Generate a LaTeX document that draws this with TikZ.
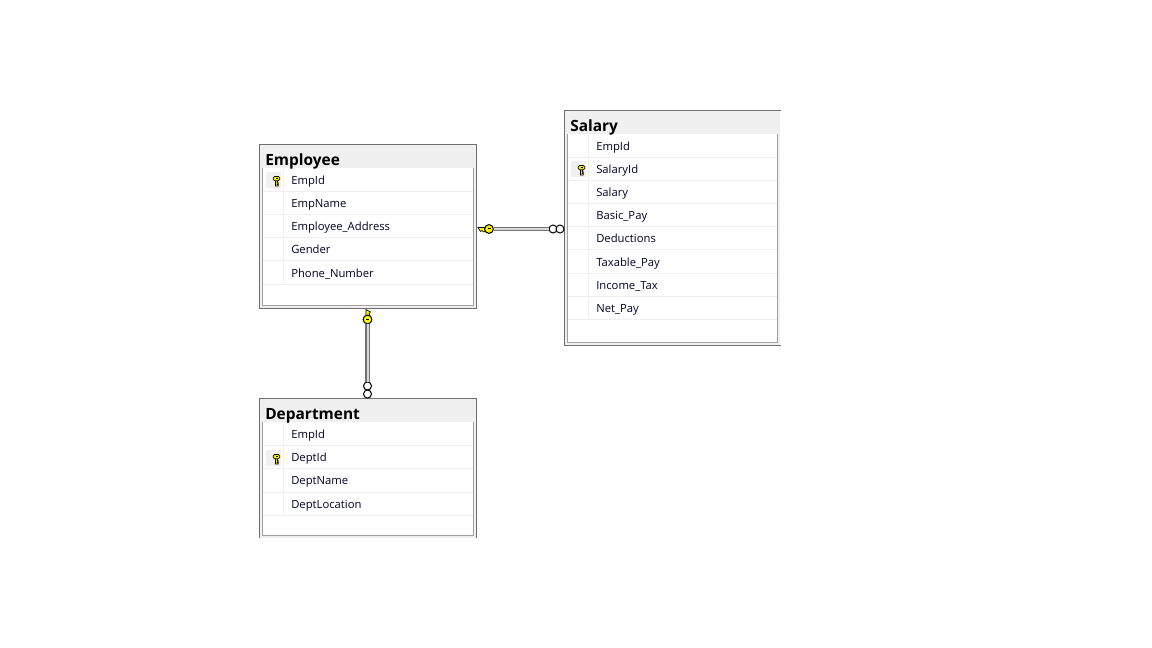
\documentclass[tikz,border=0pt]{standalone}
\usepackage{fontspec}
\setmainfont{Open Sans}
\definecolor{framegray}{HTML}{6E6E6E}
\definecolor{innergray}{HTML}{A0A0A0}
\definecolor{bandgray}{HTML}{F0F0F0}
\definecolor{keyyellow}{HTML}{FFF200}
\tikzset{
  tabbox/.style={fill=bandgray, inner sep=0pt, minimum width=#1},
  tabouter/.style={draw=framegray, line width=1pt},
  tabinner/.style={draw=innergray, line width=1pt},
  tabline/.style={draw=bandgray, line width=0.75pt},
  tabtitle/.style={anchor=base west, inner sep=0pt, font=\fontsize{11.6}{13}\selectfont\bfseries},
  rowtext/.style={anchor=base west, inner sep=0pt, text=black!85!blue, font=\fontsize{8.45}{10}\selectfont},
  manyend/.style={circle, draw=black, fill=white, line width=0.75pt, minimum size=6pt, inner sep=0pt},
  keyhead/.style={circle, draw=black, fill=keyyellow, line width=0.75pt, minimum size=6.6pt, inner sep=0pt},
  relline/.style={draw=black!55, line width=0.9pt, double=black!15, double distance=1.5pt},
  cellkey/.pic={
    \filldraw[draw=black, fill=keyyellow, line width=0.6pt]
      (-1,0) -- (-1,6) -- (1.8,6) -- (1.8,4.5) -- (0.8,4.5) -- (1.8,3) -- (0.8,2.5) -- (1.2,0) -- cycle;
    \filldraw[draw=black, fill=keyyellow, line width=0.6pt, rounded corners=1pt]
      (-3.2,-3.5) rectangle (3.2,0.8);
    \fill[black] (-1,-2.4) rectangle (1,-1.4);
  },
}
\begin{document}
\begin{tikzpicture}[x=0.75pt, y=-0.75pt]
  \useasboundingbox (0,0) rectangle (1152,648);

  % Employee
  \node[tabbox=163.1pt, minimum height=123pt] (emp) at (368,226.5) {};
  \fill[white] (263,168) rectangle (473,305.5);
  \foreach \y in {191.5,214.5,238,261,284.5}
    \draw[tabline] (263,\y) -- (473,\y);
  \draw[tabline] (283.5,168) -- (283.5,284);
  \draw[tabouter] (259.5,144.5) rectangle (476.5,308.5);
  \draw[tabinner] (262.5,168) -- (262.5,305.5) -- (473.5,305.5) -- (473.5,168);
  \node[tabtitle] (empname) at (265,166) {Employee};
  \fill[bandgray] (266,172) rectangle (281,188);
  \pic at (276.5,180) {cellkey};
  \node[rowtext] (emprowa) at (291,185) {EmpId};
  \node[rowtext] (emprowb) at (291,208) {EmpName};
  \node[rowtext] (emprowc) at (291,231) {Employee\_Address};
  \node[rowtext] (emprowd) at (291,254) {Gender};
  \node[rowtext] (emprowe) at (291,278) {Phone\_Number};

  % Salary, cut off on the right
  \node[tabbox=161.6pt, minimum height=176.25pt] (sal) at (672.25,228) {};
  \fill[white] (568,134) rectangle (777,342.5);
  \foreach \y in {157.5,180.5,203.5,227,250,273.5,296.5,319.5}
    \draw[tabline] (568,\y) -- (777,\y);
  \draw[tabline] (588.5,134) -- (588.5,319);
  \draw[tabouter] (781,110.5) -- (564.5,110.5) -- (564.5,345.5) -- (781,345.5);
  \draw[tabinner] (567.5,134) -- (567.5,342.5) -- (777.5,342.5) -- (777.5,134);
  \node[tabtitle] (salname) at (570,132) {Salary};
  \fill[bandgray] (571,161) rectangle (586,177);
  \pic at (581.5,169) {cellkey};
  \node[rowtext] (salrowa) at (596,151) {EmpId};
  \node[rowtext] (salrowb) at (596,174) {SalaryId};
  \node[rowtext] (salrowc) at (596,197) {Salary};
  \node[rowtext] (salrowd) at (596,220) {Basic\_Pay};
  \node[rowtext] (salrowe) at (596,243) {Deductions};
  \node[rowtext] (salrowf) at (596,267) {Taxable\_Pay};
  \node[rowtext] (salrowg) at (596,290) {Income\_Tax};
  \node[rowtext] (salrowh) at (596,313) {Net\_Pay};

  % Department, cut off at the bottom
  \node[tabbox=163.1pt, minimum height=104.6pt] (dept) at (368,468.25) {};
  \fill[white] (263,422) rectangle (473,535);
  \foreach \y in {445.5,468.5,492,515}
    \draw[tabline] (263,\y) -- (473,\y);
  \draw[tabline] (283.5,422) -- (283.5,515);
  \draw[tabouter] (259.5,538) -- (259.5,398.5) -- (476.5,398.5) -- (476.5,538);
  \draw[tabinner] (262.5,422) -- (262.5,535.5) -- (473.5,535.5) -- (473.5,422);
  \node[tabtitle] (deptname) at (265,419) {Department};
  \fill[bandgray] (266,450) rectangle (281,466);
  \pic at (276.5,458) {cellkey};
  \node[rowtext] (deptrowa) at (291,438) {EmpId};
  \node[rowtext] (deptrowb) at (291,461) {DeptId};
  \node[rowtext] (deptrowc) at (291,484) {DeptName};
  \node[rowtext] (deptrowd) at (291,508) {DeptLocation};

  % relation Employee - Salary
  \filldraw[draw=black, fill=keyyellow, line width=0.5pt]
    (486,227.5) -- (478,227.5) -- (480.5,231.5) -- (482,230.5) -- (483.5,232) -- (486,230.5) -- cycle;
  \node[keyhead] (salkey) at (489,229) {};
  \fill[black] (487.5,228.5) rectangle (490.5,229.5);
  \node[manyend] (salmanya) at (553,229) {};
  \node[manyend] (salmanyb) at (560,229) {};
  \draw[relline] (salkey) -- (salmanya);

  % relation Employee - Department
  \filldraw[draw=black, fill=keyyellow, line width=0.5pt]
    (366,317) -- (366,309.5) -- (370.5,312) -- (369,313.5) -- (370,315) -- (369,317) -- cycle;
  \node[keyhead] (deptkey) at (367.5,319.5) {};
  \fill[black] (366,319) rectangle (369,320);
  \node[manyend] (deptmanya) at (367.5,386) {};
  \node[manyend] (deptmanyb) at (367.5,394) {};
  \draw[relline] (deptkey) -- (deptmanya);
\end{tikzpicture}
\end{document}
